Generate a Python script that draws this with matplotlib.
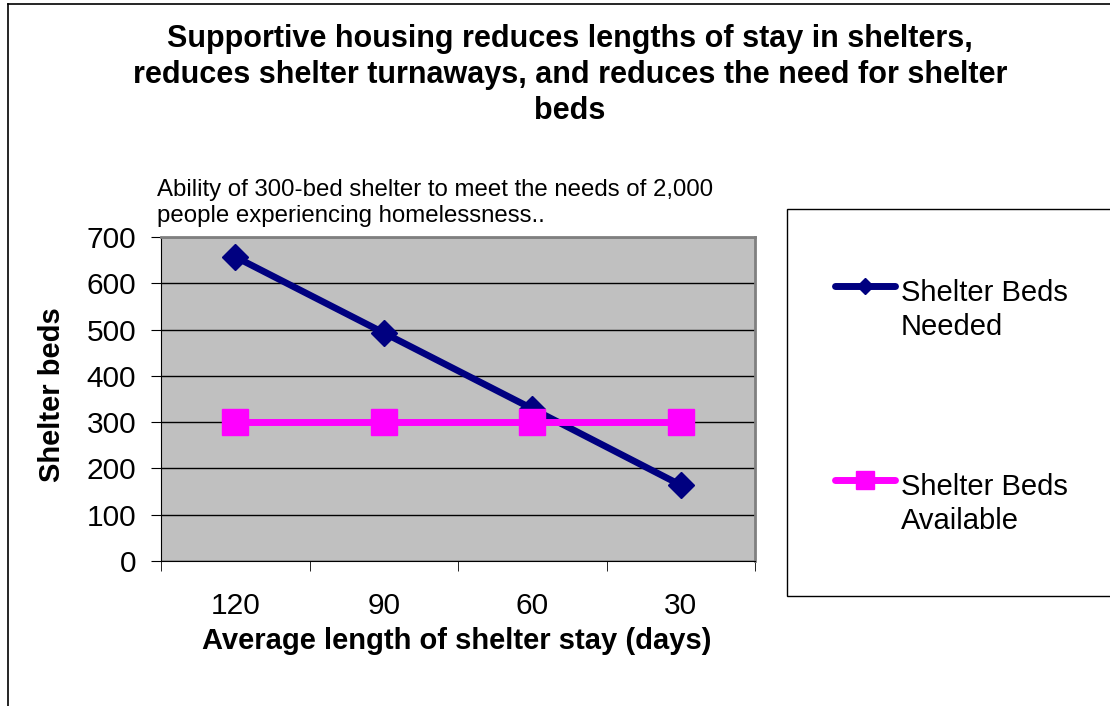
import numpy as np
import matplotlib
matplotlib.use("Agg")
import matplotlib.pyplot as plt
from matplotlib.lines import Line2D
from matplotlib.patches import Rectangle

# ----- chart data -----
STAY_DAYS = ["120", "90", "60", "30"]
BEDS_NEEDED = [657, 493, 329, 164]
BEDS_AVAILABLE = [300, 300, 300, 300]
Y_TICKS = [0, 100, 200, 300, 400, 500, 600, 700]

SERIES_NAMES = ["Shelter Beds\nNeeded", "Shelter Beds\nAvailable"]
TITLE = ("Supportive housing reduces lengths of stay in shelters,\n"
         "reduces shelter turnaways, and reduces the need for shelter\n"
         "beds")
SUBTITLE = ("Ability of 300-bed shelter to meet the needs of 2,000\n"
            "people experiencing homelessness..")

NAVY = "#000080"
MAGENTA = "#FF00FF"

W, H = 1110, 706
plt.rcParams["font.family"] = ["Liberation Sans", "DejaVu Sans"]


def fx(px):
    return px / W


def fy(py):
    return 1 - py / H


fig = plt.figure(figsize=(W / 100, H / 100), dpi=100)

# outer chart frame (runs off the right and bottom edges)
fig.add_artist(Line2D([fx(8), fx(8)], [fy(4), fy(H + 5)], color="black", lw=1.2))
fig.add_artist(Line2D([fx(8), fx(W + 5)], [fy(4), fy(4)], color="black", lw=1.2))

ax = fig.add_axes([fx(161), fy(561), fx(755) - fx(161), fy(237) - fy(561)])
ax.set_facecolor("#C0C0C0")

x = np.arange(len(STAY_DAYS))
ax.plot(x, BEDS_NEEDED, color=NAVY, lw=4.8, marker="D", markersize=13.5,
        label=SERIES_NAMES[0], zorder=3)
ax.plot(x, BEDS_AVAILABLE, color=MAGENTA, lw=5, marker="s", markersize=18.5,
        label=SERIES_NAMES[1], zorder=4)

ax.set_xlim(-0.5, len(STAY_DAYS) - 0.5)
ax.set_ylim(0, 700)
ax.set_yticks(Y_TICKS)
ax.yaxis.grid(True, color="black", lw=1)
ax.set_axisbelow(True)

ax.set_xticks(x)
ax.set_xticklabels(STAY_DAYS)
ax.set_xticks(np.arange(-0.5, len(STAY_DAYS)), minor=True)
ax.tick_params(axis="x", which="major", length=0, pad=22, labelsize=21.5)
ax.tick_params(axis="x", which="minor", length=7, direction="out", color="black")
ax.tick_params(axis="y", length=7, direction="out", labelsize=21.5, pad=11)

for side in ["top", "right"]:
    ax.spines[side].set_color("#808080")
    ax.spines[side].set_linewidth(2)
ax.spines["left"].set_color("black")
ax.spines["bottom"].set_color("black")

fig.text(fx(457), fy(641), "Average length of shelter stay (days)", ha="center", va="center",
         fontsize=21, fontweight="bold")
fig.text(fx(52), fy(395), "Shelter beds", ha="center", va="center", rotation=90,
         fontsize=21, fontweight="bold")
fig.text(fx(570), fy(75), TITLE, ha="center", va="center", fontsize=22,
         fontweight="bold", linespacing=1.25)
fig.text(fx(157), fy(203), SUBTITLE, ha="left", va="center", fontsize=17.3, linespacing=1.2)

# legend box, open to the right edge
fig.add_artist(Rectangle((fx(787), fy(596)), fx(W + 10) - fx(787), fy(209) - fy(596),
                         transform=fig.transFigure, facecolor="white", edgecolor="black",
                         lw=1))

legend_rows = [(NAVY, "D", 8.5, 286), (MAGENTA, "s", 13.5, 480)]
for name, (color, marker, ms, yrow) in zip(SERIES_NAMES, legend_rows):
    fig.add_artist(Line2D([fx(835), fx(865), fx(895)], [fy(yrow)] * 3, color=color, lw=5,
                          solid_capstyle="round", marker=marker, markersize=ms,
                          markevery=[1]))
    fig.text(fx(901), fy(yrow - 7), name, ha="left", va="top", fontsize=21, linespacing=1.28)

fig.savefig("out.png", dpi=100)
